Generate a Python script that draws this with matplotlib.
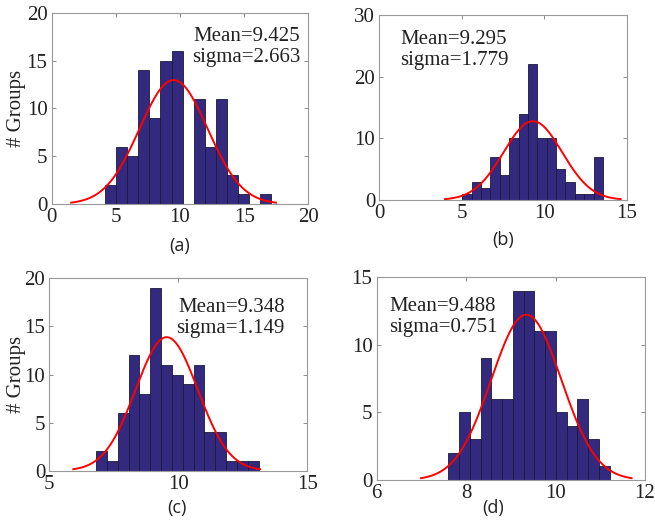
import numpy as np
import matplotlib
matplotlib.use("Agg")
import matplotlib.pyplot as plt

# ---- data ----
counts_a = [2, 6, 5, 14, 9, 15, 16, 0, 11, 6, 11, 3, 1, 0, 1]
edges_a = (4.16, 17.12)
fit_a = (9.50, 2.66)
text_a = ["Mean=9.425", "sigma=2.663"]

counts_b = [1, 3, 2, 7, 4, 10, 14, 22, 10, 10, 5, 3, 1, 1, 7]
edges_b = (5.03, 13.56)
fit_b = (9.31, 1.775)
text_b = ["Mean=9.295", "sigma=1.779"]

counts_c = [2, 1, 6, 12, 8, 19, 11, 10, 9, 11, 4, 4, 1, 1, 1]
edges_c = (6.81, 13.11)
fit_c = (9.55, 1.207)
text_c = ["Mean=9.348", "sigma=1.149"]

counts_d = [2, 5, 3, 9, 6, 6, 14, 14, 11, 11, 5, 4, 6, 3, 1]
edges_d = (7.60, 11.21)
fit_d = (9.345, 0.785)
text_d = ["Mean=9.488", "sigma=0.751"]

panel_labels = ["(a)", "(b)", "(c)", "(d)"]
xlims = [(0, 20), (0, 15), (5, 15), (6, 12)]
ylims = [(0, 20), (0, 30), (0, 20), (0, 15)]
xticks = [[0, 5, 10, 15, 20], [0, 5, 10, 15], [5, 10, 15], [6, 8, 10, 12]]
yticks = [[0, 5, 10, 15, 20], [0, 10, 20, 30], [0, 5, 10, 15, 20], [0, 5, 10, 15]]

W, H = 655, 529
fig = plt.figure(figsize=(W / 100, H / 100), dpi=100)

# axes boxes in pixels: left, top, right, bottom
boxes = [(51.7, 12.7, 308.3, 204.0),
         (379.3, 15.0, 626.7, 200.0),
         (49.3, 278.3, 307.3, 470.7),
         (376.7, 277.3, 645.0, 480.0)]
label_pos = [(180, 246), (503, 240), (177, 508), (493, 508)]
text_pos = [("right", 0.968, 0.925), ("left", 0.084, 0.92), ("right", 0.913, 0.90), ("left", 0.047, 0.905)]

serif = ["Liberation Serif", "DejaVu Serif"]
fs = 15

datasets = [(counts_a, edges_a, fit_a, text_a),
            (counts_b, edges_b, fit_b, text_b),
            (counts_c, edges_c, fit_c, text_c),
            (counts_d, edges_d, fit_d, text_d)]

for i, (counts, ed, fit, txt) in enumerate(datasets):
    l, t, r, b = boxes[i]
    ax = fig.add_axes([l / W, 1 - b / H, (r - l) / W, (b - t) / H])
    n = len(counts)
    edges = np.linspace(ed[0], ed[1], n + 1)
    width = edges[1] - edges[0]
    ax.bar(edges[:-1], counts, width=width, align="edge", color="#33297f",
           edgecolor="#1a1a3a", linewidth=0.6, zorder=2)
    mu, sg = fit
    xs = np.linspace(mu - 3 * sg, mu + 3 * sg, 200)
    ys = sum(counts) * width * np.exp(-0.5 * ((xs - mu) / sg) ** 2) / (sg * np.sqrt(2 * np.pi))
    ax.plot(xs, ys, color="#ff0000", linewidth=1.4, zorder=3)
    ax.set_xlim(*xlims[i])
    ax.set_ylim(*ylims[i])
    ax.set_xticks(xticks[i])
    ax.set_yticks(yticks[i])
    ax.tick_params(direction="in", length=3, width=0.6, color="#777777",
                   top=True, right=True, labelsize=fs, pad=3)
    for lab in ax.get_xticklabels() + ax.get_yticklabels():
        lab.set_family(serif)
        lab.set_color("#222222")
    for s in ax.spines.values():
        s.set_color("#999999")
        s.set_linewidth(0.8)
    if i in (0, 2):
        ax.set_ylabel("# Groups", family=serif, fontsize=fs, color="#222222", va="center")
        ax.yaxis.set_label_coords((16.0 - l) / (r - l), 0.5)
    ha, tx, ty = text_pos[i]
    ax.text(tx, ty, txt[0] + "\n" + txt[1], transform=ax.transAxes, ha=ha, va="top",
            family=serif, fontsize=fs, color="#222222", linespacing=1.15)
    lx, ly = label_pos[i]
    fig.text(lx / W, 1 - ly / H, panel_labels[i], ha="center", va="center",
             family=["Open Sans", "DejaVu Sans"], fontsize=13, color="#222222")

fig.savefig("out.png", dpi=100)
